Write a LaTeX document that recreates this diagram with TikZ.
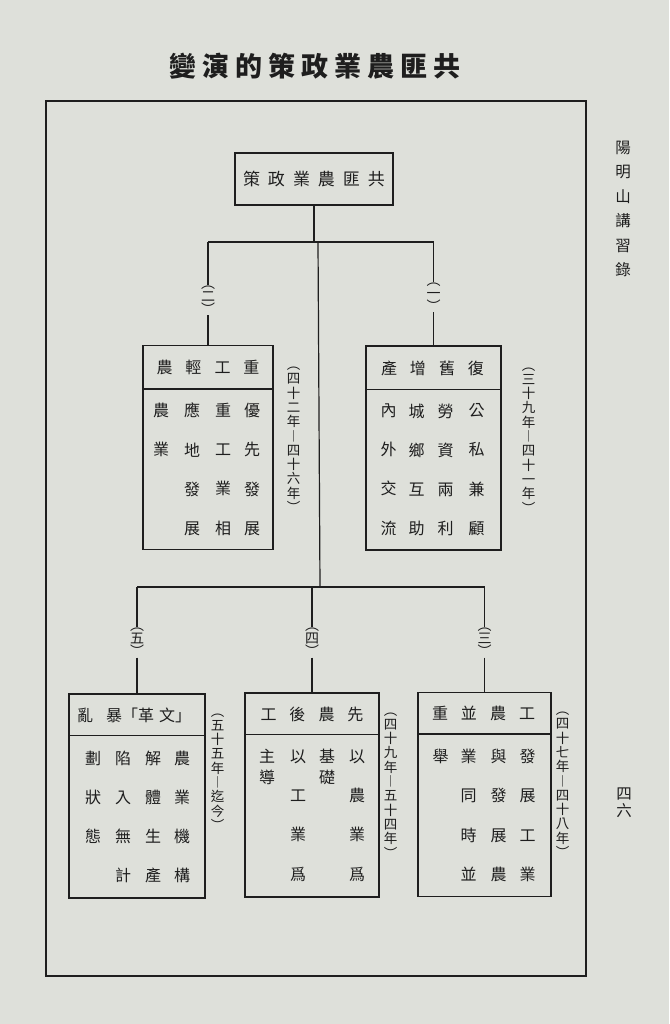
\documentclass[tikz,border=0pt]{standalone}
\usepackage{fontspec}
\newfontfamily\cjk{Noto Sans CJK TC}
\usetikzlibrary{positioning}
\definecolor{paper}{RGB}{222,224,218}
\definecolor{ink}{RGB}{30,30,30}
\newcommand\hgap{\hspace{13pt}}
\newcommand\tgap{\hspace{6pt}}
\tikzset{
  box/.style={draw=ink, line width=1.3pt, minimum width=#1, minimum height=204, inner sep=0},
  topbox/.style={draw=ink, line width=2.3pt, minimum width=158, minimum height=52, inner sep=0,
    font=\cjk\fontsize{17}{17}\selectfont, text=ink},
  rule/.style={draw=ink, line width=1.4pt},
  conn/.style={draw=ink, line width=1.2pt},
  head/.style={font=\cjk\fontsize{16}{16}\selectfont, text=ink, inner sep=0},
  bodycol/.style={font=\cjk\fontsize{16}{39.3}\selectfont, text=ink, align=center, inner sep=0, anchor=north},
  tightcol/.style={font=\cjk\fontsize{16}{21}\selectfont, text=ink, align=center, inner sep=0, anchor=north},
  yrs/.style={font=\cjk\fontsize{13.5}{14.3}\selectfont, text=ink, align=center, inner sep=0, anchor=north},
  brlab/.style={font=\cjk\fontsize{14}{13}\selectfont, text=ink, align=center, inner sep=1pt},
  margintxt/.style={font=\cjk\fontsize{15.5}{24.5}\selectfont, text=ink, align=center, inner sep=0}
}
\begin{document}
\begin{tikzpicture}[x=1pt,y=-1pt]
\fill[paper] (0,0) rectangle (669,1024);
\useasboundingbox (0,0) rectangle (669,1024);

\node[font=\cjk\bfseries\fontsize{27}{27}\selectfont, text=ink] (ttl) at (315,66)
  {變\tgap 演\tgap 的\tgap 策\tgap 政\tgap 業\tgap 農\tgap 匪\tgap 共};
\draw[ink, line width=2pt] (46,101) rectangle (586,976);
\node[margintxt] (side) at (623,209) {陽\\明\\山\\講\\習\\錄};
\node[margintxt, font=\cjk\fontsize{15.5}{17}\selectfont] (pg) at (624,803) {四\\六};

% top of the chart
\node[topbox] (top) at (314,179) {策\hspace{8pt}政\hspace{8pt}業\hspace{8pt}農\hspace{8pt}匪\hspace{8pt}共};
\coordinate (hubA) at (318,242);
\coordinate (hubB) at (320,587);

\node[box=130] (b2) at (208,447.5) {};
\node[box=135] (b1) at (433.5,448) {};
\node[box=136] (b5) at (137,796) {};
\node[box=134] (b4) at (312,795) {};
\node[box=133] (b3) at (484.5,794.5) {};

\node[brlab, fill=paper] (l2) at (208,300) {︵\\二\\︶};
\node[brlab, fill=paper] (l1) at (433.5,297) {︵\\一\\︶};
\node[brlab, fill=paper] (l5) at (137,642) {︵\\五\\︶};
\node[brlab, fill=paper] (l4) at (312,642) {︵\\四\\︶};
\node[brlab, fill=paper] (l3) at (484.5,642) {︵\\三\\︶};

\draw[conn] (top.south) -- (top.south |- hubA);
\draw[conn] (l2 |- hubA) -- (l1 |- hubA);
\draw[conn] (l2 |- hubA) -- (l2.north);
\draw[conn] (l2.south) -- (b2.north);
\draw[conn] (l1 |- hubA) -- (l1.north);
\draw[conn] (l1.south) -- (b1.north);
\draw[conn] (hubA) -- (hubB);
\draw[conn] (l5 |- hubB) -- (l3 |- hubB);
\draw[conn] (l5 |- hubB) -- (l5.north);
\draw[conn] (l5.south) -- (b5.north);
\draw[conn] (l4 |- hubB) -- (l4.north);
\draw[conn] (l4.south) -- (b4.north);
\draw[conn] (l3 |- hubB) -- (l3.north);
\draw[conn] (l3.south) -- (b3.north);

% dividers under the headings
\draw[rule] ([yshift=-44]b2.north west) -- ([yshift=-44]b2.north east);
\draw[rule] ([yshift=-44]b1.north west) -- ([yshift=-44]b1.north east);
\draw[rule] ([yshift=-42]b5.north west) -- ([yshift=-42]b5.north east);
\draw[rule] ([yshift=-42]b4.north west) -- ([yshift=-42]b4.north east);
\draw[rule] ([yshift=-42]b3.north west) -- ([yshift=-42]b3.north east);

% (二)
\node[head] (h2) at ([yshift=-23]b2.north) {農\hgap 輕\hgap 工\hgap 重};
\node[bodycol] (c2a) at ([xshift=44,yshift=-58]b2.north) {優\\先\\發\\展};
\node[bodycol] (c2b) at ([xshift=15,yshift=-58]b2.north) {重\\工\\業\\相};
\node[bodycol] (c2c) at ([xshift=-16,yshift=-58]b2.north) {應\\地\\發\\展};
\node[bodycol] (c2d) at ([xshift=-47,yshift=-58]b2.north) {農\\業};
\node[yrs] (y2) at ([xshift=20,yshift=-22]b2.north east) {︵\\四\\十\\二\\年\\︱\\四\\十\\六\\年\\︶};

% (一)
\node[head] (h1) at ([xshift=-1,yshift=-23]b1.north) {產\hgap 增\hgap 舊\hgap 復};
\node[bodycol] (c1a) at ([xshift=43,yshift=-58]b1.north) {公\\私\\兼\\顧};
\node[bodycol] (c1b) at ([xshift=12,yshift=-58]b1.north) {勞\\資\\兩\\利};
\node[bodycol] (c1c) at ([xshift=-17,yshift=-58]b1.north) {城\\鄉\\互\\助};
\node[bodycol] (c1d) at ([xshift=-45,yshift=-58]b1.north) {內\\外\\交\\流};
\node[yrs] (y1) at ([xshift=27,yshift=-22]b1.north east) {︵\\三\\十\\九\\年\\︱\\四\\十\\一\\年\\︶};

% (五)
\node[head, anchor=west] (h5) at ([xshift=-60,yshift=-22]b5.north) {亂\hgap 暴「革\hspace{5pt}文」};
\node[bodycol] (c5a) at ([xshift=45,yshift=-57]b5.north) {農\\業\\機\\構};
\node[bodycol] (c5b) at ([xshift=16,yshift=-57]b5.north) {解\\體\\生\\產};
\node[bodycol] (c5c) at ([xshift=-14,yshift=-57]b5.north) {陷\\入\\無\\計};
\node[bodycol] (c5d) at ([xshift=-44,yshift=-57]b5.north) {劃\\狀\\態};
\node[yrs] (y5) at ([xshift=12,yshift=-20]b5.north east) {︵\\五\\十\\五\\年\\︱\\迄\\今\\︶};

% (四)
\node[head] (h4) at ([yshift=-22]b4.north) {工\hgap 後\hgap 農\hgap 先};
\node[bodycol] (c4a) at ([xshift=45,yshift=-57]b4.north) {以\\農\\業\\爲};
\node[tightcol] (c4b) at ([xshift=15,yshift=-57]b4.north) {基\\礎};
\node[bodycol] (c4c) at ([xshift=-14,yshift=-57]b4.north) {以\\工\\業\\爲};
\node[tightcol] (c4d) at ([xshift=-45,yshift=-57]b4.north) {主\\導};
\node[yrs] (y4) at ([xshift=11,yshift=-20]b4.north east) {︵\\四\\十\\九\\年\\︱\\五\\十\\四\\年\\︶};

% (三)
\node[head] (h3) at ([xshift=-1,yshift=-22]b3.north) {重\hgap 並\hgap 農\hgap 工};
\node[bodycol] (c3a) at ([xshift=43,yshift=-57]b3.north) {發\\展\\工\\業};
\node[bodycol] (c3b) at ([xshift=14,yshift=-57]b3.north) {與\\發\\展\\農};
\node[bodycol] (c3c) at ([xshift=-16,yshift=-57]b3.north) {業\\同\\時\\並};
\node[bodycol] (c3d) at ([xshift=-44,yshift=-57]b3.north) {舉};
\node[yrs] (y3) at ([xshift=11,yshift=-20]b3.north east) {︵\\四\\十\\七\\年\\︱\\四\\十\\八\\年\\︶};
\end{tikzpicture}
\end{document}
